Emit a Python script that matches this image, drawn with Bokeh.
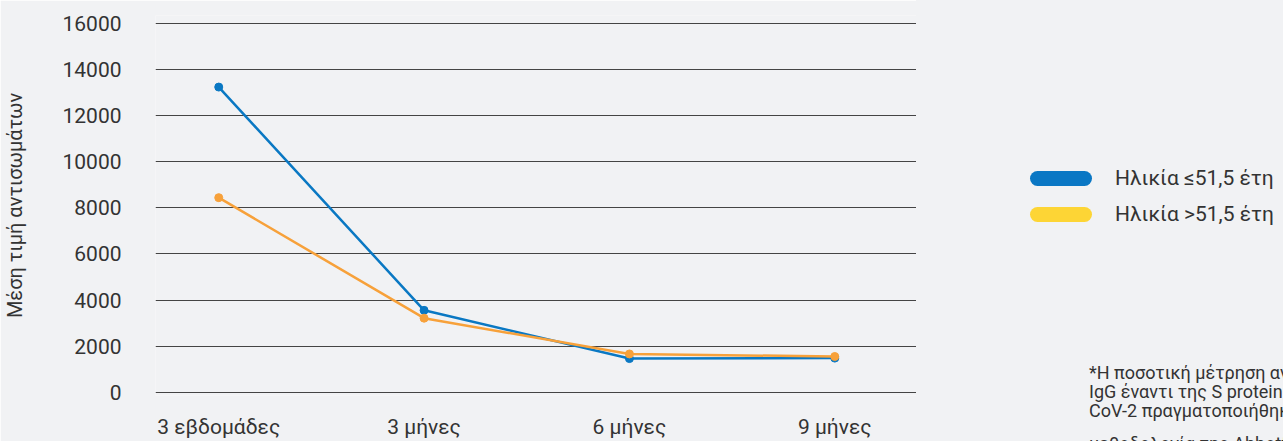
from bokeh.plotting import figure
from bokeh.models import ColumnDataSource, FixedTicker, Range1d, Div
from bokeh.layouts import row
from bokeh.embed import file_html
from bokeh.resources import INLINE

# ---- data ----
categories = ["3 εβδομάδες", "3 μήνες", "6 μήνες", "9 μήνες"]
young = [13230, 3560, 1470, 1490]   # Ηλικία ≤51,5 έτη
old = [8440, 3220, 1670, 1560]      # Ηλικία >51,5 έτη
y_ticks = [0, 2000, 4000, 6000, 8000, 10000, 12000, 14000, 16000]
series_names = ["Ηλικία ≤51,5 έτη", "Ηλικία >51,5 έτη"]
y_title = "Μέση τιμή αντισωμάτων"
footnote = ["*Η ποσοτική μέτρηση αντισωμάτων",
            "IgG έναντι της S protein του SARS-",
            "CoV-2 πραγματοποιήθηκε με τη",
            "μεθοδολογία της Abbott"]

BG = "#f1f2f4"
TXT = "#333333"
FONT = "Roboto"
BLUE_LINE = "#0a78c3"
ORANGE_LINE = "#f7a13a"
legend_colors = ["#0a77c4", "#fdd535"]

H = 441
W1 = 916
W2 = 1283 - W1

xs = list(range(len(categories)))
src = ColumnDataSource(dict(x=xs, young=young, old=old))

p = figure(width=W1, height=H, output_backend="svg", toolbar_location=None,
           x_range=Range1d(-0.308, 3.398), y_range=Range1d(-129, 16330),
           min_border_left=154, min_border_right=0, min_border_top=15, min_border_bottom=42)
p.background_fill_color = BG
p.border_fill_color = BG
p.outline_line_color = None

p.line("x", "young", source=src, line_color=BLUE_LINE, line_width=2.5)
p.scatter("x", "young", source=src, color=BLUE_LINE, size=8)
p.line("x", "old", source=src, line_color=ORANGE_LINE, line_width=2.5)
p.scatter("x", "old", source=src, color=ORANGE_LINE, size=8)

# x axis
p.xaxis.ticker = FixedTicker(ticks=xs)
p.xaxis.major_label_overrides = {i: c for i, c in enumerate(categories)}
p.xaxis.axis_line_color = None
p.xaxis.major_tick_line_color = None
p.xaxis.minor_tick_line_color = None
p.xaxis.major_tick_out = 0
p.xaxis.major_tick_in = 0
p.xaxis.major_label_text_font = FONT
p.xaxis.major_label_text_font_size = "21px"
p.xaxis.major_label_text_line_height = 1.0
p.xaxis.major_label_text_color = TXT
p.xaxis.major_label_standoff = 19
p.xgrid.grid_line_color = None

# y axis
p.yaxis.ticker = FixedTicker(ticks=y_ticks)
p.yaxis.axis_line_color = None
p.yaxis.major_tick_line_color = None
p.yaxis.minor_tick_line_color = None
p.yaxis.major_tick_out = 0
p.yaxis.major_tick_in = 0
p.yaxis.major_label_text_font = FONT
p.yaxis.major_label_text_font_size = "21px"
p.yaxis.major_label_text_color = TXT
p.yaxis.major_label_standoff = 34
p.yaxis.axis_label = y_title
p.yaxis.axis_label_text_font = FONT
p.yaxis.axis_label_text_font_style = "normal"
p.yaxis.axis_label_text_font_size = "20px"
p.yaxis.axis_label_text_color = TXT
p.yaxis.axis_label_standoff = 32
p.ygrid.grid_line_color = "#444444"
p.ygrid.grid_line_width = 1

# right side: legend + footnote (HTML panel)
items_html = ""
for i, (name, col) in enumerate(zip(series_names, legend_colors)):
    cy = 178 + 36 * i
    items_html += (
        f'<div style="position:absolute;left:114px;top:{cy - 7.5}px;width:62px;height:15px;'
        f'border-radius:7.5px;background:{col};"></div>'
        f'<div style="position:absolute;left:199px;top:{cy - 13}px;height:26px;line-height:26px;'
        f'font-size:21px;white-space:nowrap;">{name}</div>'
    )
foot_tops = [362.8, 382.1, 401.1, 433.8]
foot_html = ""
for t, top in zip(footnote, foot_tops):
    foot_html += (
        f'<div style="position:absolute;left:173px;top:{top}px;font-size:18px;line-height:19.2px;'
        f'white-space:nowrap;">{t}</div>'
    )
html = (
    f'<div style="position:relative;width:{W2}px;height:{H}px;background:{BG};'
    f'font-family:{FONT},sans-serif;color:{TXT};overflow:hidden;">'
    + items_html + foot_html + '</div>'
)
side = Div(text=html, width=W2, height=H, styles={"background-color": BG, "margin": "0", "padding": "0"})

layout = row(p, side, spacing=0)
open("out.html", "w").write(file_html(layout, INLINE))
